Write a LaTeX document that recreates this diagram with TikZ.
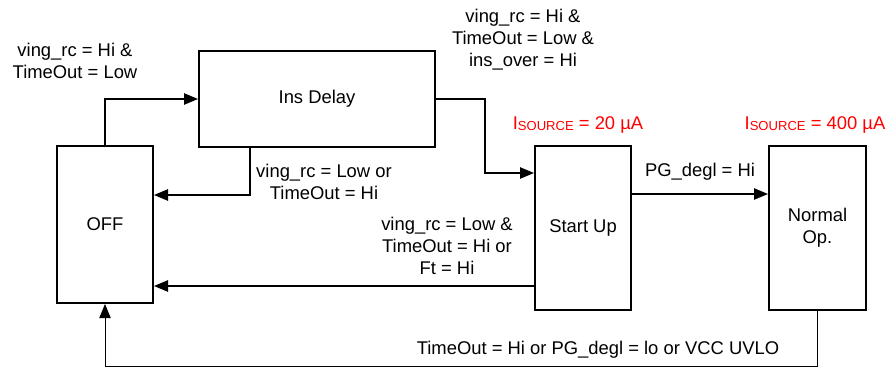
\documentclass[tikz,border=0pt]{standalone}
\usepackage{fontspec}
\setmainfont{Liberation Sans}
\usetikzlibrary{arrows.meta}

\tikzset{
    statebox/.style={draw, line width=1.5pt, inner sep=0pt, align=center},
    cond/.style={align=center, inner sep=0pt},
    flow/.style={line width=1.1pt, -{Triangle[length=10.5pt,width=8.5pt]}},
}
\newcommand{\isrc}[1]{I\raisebox{-1pt}{\fontsize{9.8}{12}\selectfont SOURCE} = #1~µA}

\begin{document}
\begin{tikzpicture}[x=0.75pt,y=-0.75pt,font=\fontsize{13.8}{16.5}\selectfont]
    \useasboundingbox (0,0) rectangle (886,369);

    % states
    \node [statebox, minimum width=72pt, minimum height=117.75pt] (off) at (105,224.5) {OFF};
    \node [statebox, minimum width=177pt, minimum height=72pt] (ins) at (317,99) {Ins Delay};
    \node [statebox, minimum width=72pt, minimum height=123pt] (su) at (583,228) {Start Up};
    \node [statebox, minimum width=72.75pt, minimum height=123pt] (nop) at (817.5,228) {Normal\\Op.};

    % transitions
    \draw [flow] (off.north) |- (ins.west);
    \draw [flow] (ins.south -| 250,0) |- (off.east |- 0,195);
    \draw [flow] (ins.east) -- (485,99) |- (su.west |- 0,173);
    \draw [flow] (su.east |- 0,194) -- (nop.west |- 0,194);
    \draw [flow] (su.west |- 0,286) -- (off.east |- 0,286);
    \draw [flow, line width=0.75pt] (nop.south) -- (817.5,366) -| (off.south);

    % conditions
    \node [cond] (c1) at (75,61) {ving\_rc = Hi \&\\TimeOut = Low};
    \node [cond] (c2) at (523,40) {ving\_rc = Hi \&\\TimeOut = Low \&\\ins\_over = Hi};
    \node [cond] (c3) at (324,182) {ving\_rc = Low or\\TimeOut = Hi};
    \node [cond] (c4) at (700,172) {PG\_degl = Hi};
    \node [cond] (c5) at (447,246) {ving\_rc = Low \&\\TimeOut = Hi or\\Ft = Hi};
    \node [cond] (c6) at (598,350) {TimeOut = Hi or PG\_degl = lo or VCC UVLO};

    \node [cond, text=red] (i1) at (578,125) {\isrc{20}};
    \node [cond, text=red] (i2) at (815,125) {\isrc{400}};
\end{tikzpicture}
\end{document}
